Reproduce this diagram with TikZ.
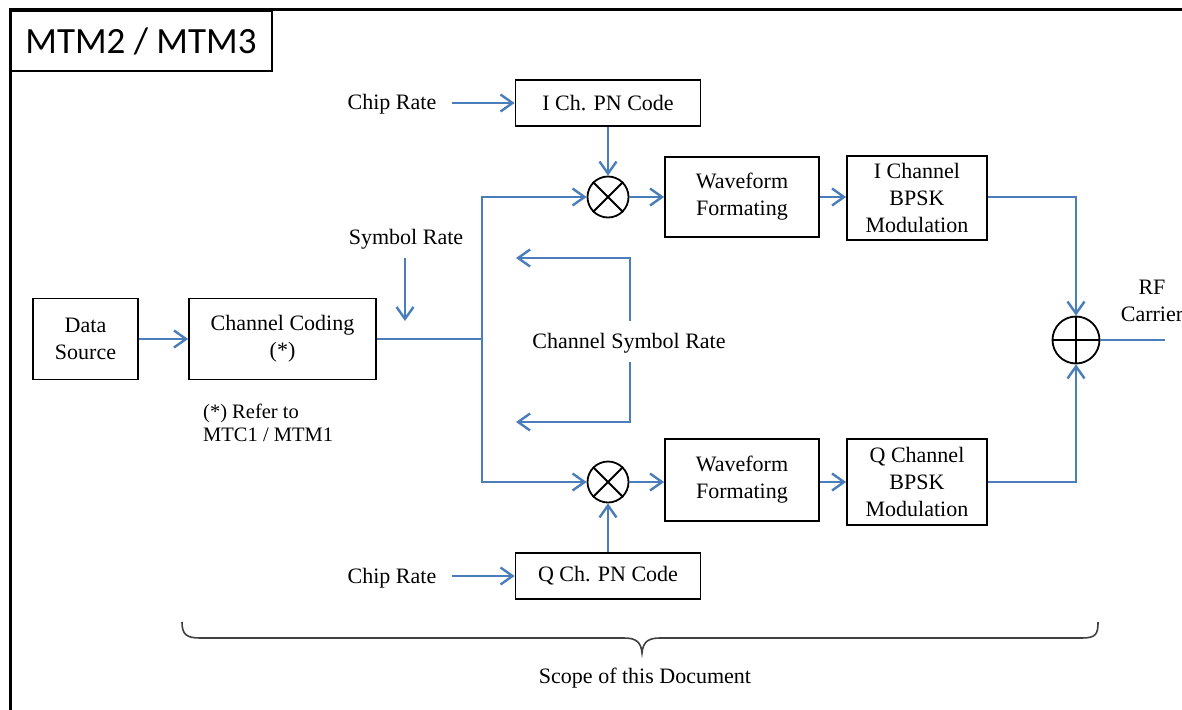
\documentclass[tikz,border=0pt]{standalone}
\usepackage{fontspec}
\setmainfont{Liberation Serif}
\newfontfamily\titlefont{Carlito}
\usetikzlibrary{arrows.meta,shapes.geometric}
\definecolor{linkblue}{RGB}{74,126,187}
\begin{document}
\begin{tikzpicture}[x=1pt,y=-1pt,
  every node/.style={font=\fontsize{22}{27}\selectfont},
  blk/.style={draw=black,line width=1.8pt,inner sep=0pt,align=center},
  lbl/.style={inner sep=0pt,align=center},
  wire/.style={draw=linkblue,line width=2.4pt},
  arr/.style={wire,-{Straight Barb[length=12pt,width=17pt,line width=2.4pt]}},
  mixer/.style={circle,draw=black,line width=1.8pt,minimum size=41pt,inner sep=0pt},
  bracestyle/.style={draw=black!75,line width=1.6pt}]
\useasboundingbox (0,0) rectangle (1182,709);
% frame and title
\draw[line width=3pt] (10,720) -- (10,10) -- (1200,10);
\node[blk,line width=2.5pt,minimum width=262pt,minimum height=60pt,font=\titlefont\fontsize{37}{40}\selectfont] (title) at (141,41) {MTM2 / MTM3};
% blocks
\node[blk,minimum width=105pt,minimum height=81pt] (ds) at (85.5,339) {Data\\Source};
\node[blk,minimum width=187pt,minimum height=81pt] (cc) at (282.5,339) {Channel Coding\\(*)};
\node[blk,minimum width=185pt,minimum height=46pt] (ipn) at (608,103) {I Ch. PN Code};
\node[blk,minimum width=185pt,minimum height=46pt] (qpn) at (608,576) {Q Ch. PN Code};
\node[mixer] (imul) at (608,197) {};
\node[mixer] (qmul) at (608,482) {};
\draw[line width=1.8pt] (imul.north east) -- (imul.south west) (imul.north west) -- (imul.south east);
\draw[line width=1.8pt] (qmul.north east) -- (qmul.south west) (qmul.north west) -- (qmul.south east);
\node[blk,minimum width=154pt,minimum height=80pt] (iwf) at (742,197) {Waveform\\Formating};
\node[blk,minimum width=154pt,minimum height=82pt] (qwf) at (742,480) {Waveform\\Formating};
\node[blk,minimum width=140pt,minimum height=84pt] (ibpsk) at (917,198) {I Channel\\BPSK\\Modulation};
\node[blk,minimum width=140pt,minimum height=86pt] (qbpsk) at (917,482) {Q Channel\\BPSK\\Modulation};
\node[circle,draw=black,line width=1.8pt,minimum size=47pt,inner sep=0pt] (adder) at (1076,340) {};
\draw[line width=1.8pt] (adder.north) -- (adder.south) (adder.west) -- (adder.east);
% labels
\node[lbl] (chip1) at (392,104) {Chip Rate};
\node[lbl] (chip2) at (392,578) {Chip Rate};
\node[lbl] (symr) at (406,239) {Symbol Rate};
\node[lbl] (csr) at (629,343) {Channel Symbol Rate};
\node[lbl] (rf) at (1152,301) {RF\\Carrier};
\node[lbl,anchor=west,align=left,font=\fontsize{20.5}{22.5}\selectfont] (note) at (203,423) {(*) Refer to\\MTC1 / MTM1};
\node[lbl] (scope) at (645,678) {Scope of this Document};
% coordinates
\coordinate (junc) at (482,339);
\coordinate (symtop) at (405,258);
\coordinate (symbot) at (405,321);
\coordinate (csrA) at (630,321);
\coordinate (csrB) at (630,258);
\coordinate (csrC) at (516,258);
\coordinate (csrD) at (630,362);
\coordinate (csrE) at (630,422);
\coordinate (csrF) at (516,422);
\coordinate (rfout) at (1165,340);
% connectors
\draw[arr] ([xshift=15pt]chip1.east |- ipn.west) -- (ipn.west);
\draw[arr] ([xshift=15pt]chip2.east |- qpn.west) -- (qpn.west);
\draw[arr] (ipn.south) -- (imul.north);
\draw[arr] (qpn.north) -- (qmul.south);
\draw[arr] (imul.east) -- (iwf.west);
\draw[arr] (qmul.east) -- (qmul.east -| qwf.west);
\draw[arr] (iwf.east) -- (ibpsk.west |- iwf.east);
\draw[arr] (qmul -| qwf.east) -- (qmul -| qbpsk.west);
\draw[arr] (ibpsk.east |- imul) -| (adder.north);
\draw[arr] (qmul -| qbpsk.east) -| (adder.south);
\draw[wire] (adder.east) -- (rfout);
\draw[arr] (ds.east) -- (cc.west);
\draw[wire] (cc.east) -- (junc);
\draw[arr] (junc) |- (imul.west);
\draw[arr] (junc) |- (qmul.west);
\draw[arr] (symtop) -- (symbot);
\draw[arr] (csrA) -- (csrB) -- (csrC);
\draw[arr] (csrD) -- (csrE) -- (csrF);
% brace
\draw[bracestyle] (182,622) .. controls (182,634) and (186,638) .. (200,638) -- (624,638) .. controls (636,638) and (641,642) .. (642,653) .. controls (643,642) and (648,638) .. (660,638) -- (1082,638) .. controls (1096,638) and (1098,634) .. (1098,622);
\end{tikzpicture}
\end{document}
